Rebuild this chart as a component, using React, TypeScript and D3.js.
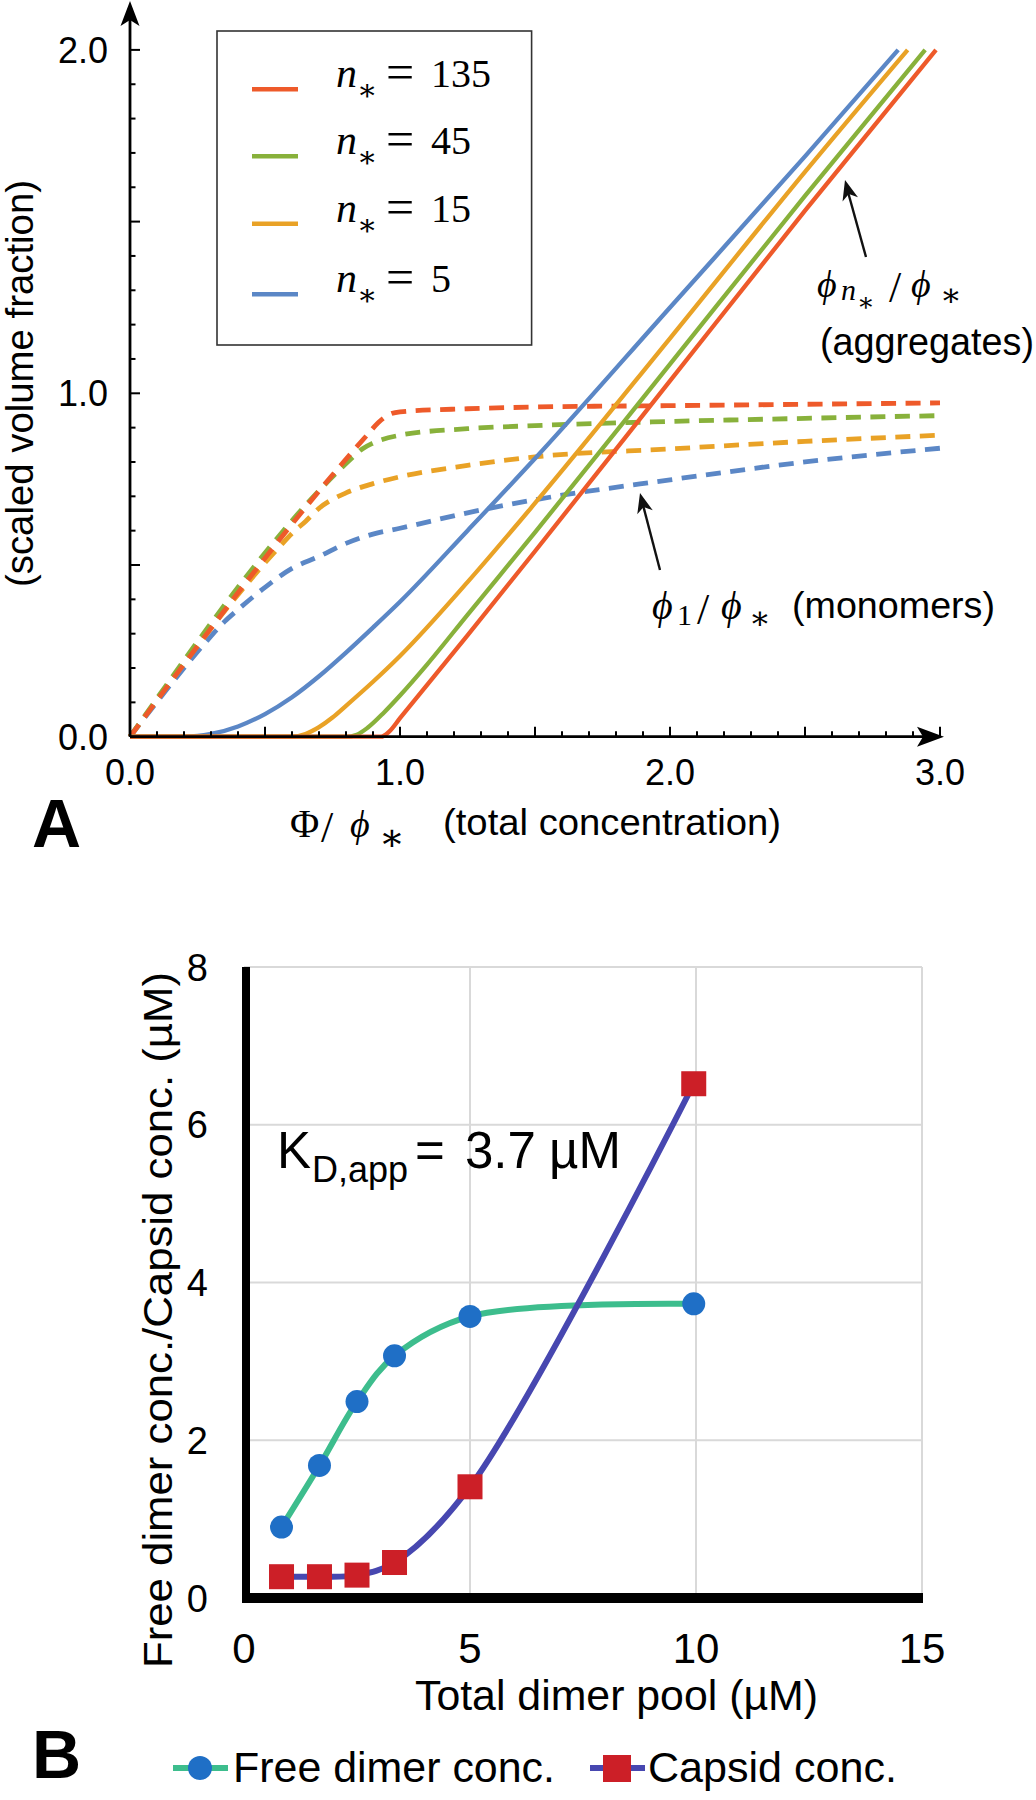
import React from 'react';
import * as d3 from 'd3';

// ---------- Panel A data ----------
const nLabels = ['135', '45', '15', '5'];
const seriesColors = ['#EE5A2A', '#88B13B', '#E9A226', '#5B87C6'];

// monomers (dashed)  [Φ/φ*, φ1/φ*]
const mono135 = [[0, 0], [0.88, 0.88], [0.92, 0.915], [0.96, 0.938], [1.0, 0.946], [1.25, 0.955], [1.5, 0.96], [2.0, 0.964], [2.5, 0.968], [3.0, 0.972]];
const mono45 = [[0, 0], [0.78, 0.78], [0.82, 0.81], [0.86, 0.838], [0.9, 0.855], [1.0, 0.878], [1.25, 0.897], [1.5, 0.906], [2.0, 0.918], [2.5, 0.927], [3.0, 0.935]];
const mono15 = [[0, 0], [0.55, 0.55], [0.6, 0.592], [0.65, 0.627], [0.7, 0.665], [0.8, 0.71], [0.9, 0.737], [1.0, 0.757], [1.25, 0.79], [1.5, 0.815], [2.0, 0.838], [2.5, 0.86], [3.0, 0.878]];
const mono5 = [[0, 0], [0.2, 0.2], [0.28, 0.275], [0.35, 0.335], [0.4, 0.37], [0.5, 0.435], [0.6, 0.49], [0.7, 0.525], [0.8, 0.563], [0.9, 0.59], [1.0, 0.607], [1.25, 0.652], [1.5, 0.69], [2.0, 0.748], [2.5, 0.8], [3.0, 0.84]];

// aggregates (solid)  [Φ/φ*, φn/φ*]
const agg135 = [[0, 0], [0.93, 0], [0.96, 0.015], [1.0, 0.054], [1.25, 0.295], [1.5, 0.54], [2.0, 1.036], [2.5, 1.532], [2.985, 2.0]];
const agg45 = [[0, 0], [0.8, 0], [0.84, 0.006], [0.88, 0.026], [0.94, 0.07], [1.0, 0.12], [1.1, 0.21], [1.25, 0.355], [1.5, 0.595], [2.0, 1.085], [2.5, 1.575], [2.945, 2.0]];
const agg15 = [[0, 0], [0.6, 0], [0.65, 0.008], [0.7, 0.028], [0.75, 0.056], [0.8, 0.09], [0.9, 0.16], [1.0, 0.235], [1.25, 0.45], [1.5, 0.68], [2.0, 1.16], [2.5, 1.645], [2.88, 2.0]];
const agg5 = [[0, 0], [0.2, 0], [0.25, 0.002], [0.3, 0.008], [0.4, 0.03], [0.5, 0.066], [0.6, 0.115], [0.7, 0.176], [0.8, 0.245], [0.9, 0.318], [1.0, 0.393], [1.25, 0.6], [1.5, 0.81], [2.0, 1.25], [2.5, 1.69], [2.845, 2.0]];

const xTickLabelsA = [0, 1, 2, 3];
const yTickLabelsA = [0, 1, 2];

// ---------- Panel B data ----------
const dimerPool = [0.83, 1.67, 2.5, 3.33, 5, 9.95];
const freeDimer = [0.9, 1.68, 2.49, 3.07, 3.57, 3.73];
const capsid = [0.27, 0.27, 0.29, 0.45, 1.41, 6.52];
const xTicksB = [0, 5, 10, 15];
const yTicksB = [0, 2, 4, 6, 8];

const SANS = "'Liberation Sans', Arial, Helvetica, sans-serif";
const SERIF = "'Liberation Serif', 'DejaVu Serif', serif";
const MATHSYM = "'DejaVu Serif', 'Liberation Serif', serif";

function arrowHead(tail: number[], tip: number[], L: number, w: number) {
  const dx = tip[0] - tail[0], dy = tip[1] - tail[1];
  const len = Math.hypot(dx, dy);
  const ux = dx / len, uy = dy / len;
  const px = -uy, py = ux;
  const bx = tip[0] - ux * L, by = tip[1] - uy * L;
  const nx = tip[0] - ux * L * 0.72, ny = tip[1] - uy * L * 0.72;
  return `M${tip[0]},${tip[1]}L${bx + px * w},${by + py * w}L${nx},${ny}L${bx - px * w},${by - py * w}Z`;
}

export default function App() {
  // ---- Panel A scales ----
  const xA = d3.scaleLinear().domain([0, 3]).range([130, 940]);
  const yA = d3.scaleLinear().domain([0, 2]).range([736.7, 49.9]);
  const lineA = d3.line<number[]>().x(d => xA(d[0])).y(d => yA(d[1])).curve(d3.curveMonotoneX);

  const monoSeries = [mono135, mono45, mono15, mono5];
  const aggSeries = [agg135, agg45, agg15, agg5];

  const tickPos = d3.range(0, 31).map(i => i / 10);
  const yTickPos = d3.range(0, 21).map(i => i / 10);
  const isMajor = (v: number) => Math.abs(v * 2 - Math.round(v * 2)) < 1e-6;

  const legendY = [89.3, 156.3, 223.7, 294.3];

  // ---- Panel B scales ----
  const xB = d3.scaleLinear().domain([0, 15]).range([244, 922]);
  const yB = d3.scaleLinear().domain([0, 8]).range([1598, 967]);
  const lineB = d3.line<number>().x((d, i) => xB(dimerPool[i])).y(d => yB(d)).curve(d3.curveCatmullRom.alpha(0.5));

  const aggTail = [866, 257], aggTip = [845, 180];
  const monTail = [660, 570], monTip = [640, 493];

  return (
    <svg width={1036} height={1800} style={{ position: 'absolute', left: 0, top: 0, background: '#fff' }}>
      <rect x={0} y={0} width={1036} height={1800} fill="#fff" />

      {/* ================= PANEL A ================= */}
      {[3, 2, 1, 0].map(i => (
        <path key={'m' + i} d={lineA(monoSeries[i]) || ''} fill="none" stroke={seriesColors[i]}
          strokeWidth={4.8} strokeDasharray="15 9.5" />
      ))}
      {[3, 2, 1, 0].map(i => (
        <path key={'a' + i} d={lineA(aggSeries[i]) || ''} fill="none" stroke={seriesColors[i]} strokeWidth={4.3} />
      ))}

      {/* axes */}
      <line x1={xA(0)} y1={yA(0)} x2={xA(0)} y2={12} stroke="#000" strokeWidth={2.8} />
      <path d="M130,1L120.5,26L130,20L139.5,26Z" fill="#000" />
      <line x1={xA(0)} y1={yA(0)} x2={932} y2={yA(0)} stroke="#000" strokeWidth={2.8} />
      <path d={`M944,${yA(0)}L917,${yA(0) - 10}L923,${yA(0)}L917,${yA(0) + 10}Z`} fill="#000" />

      {tickPos.map(v => (
        <line key={'xt' + v} x1={xA(v)} x2={xA(v)} y1={yA(0)} y2={yA(0) - (isMajor(v) ? 10 : 5.5)} stroke="#000" strokeWidth={2} />
      ))}
      {yTickPos.map(v => (
        <line key={'yt' + v} x1={xA(0)} x2={xA(0) + (isMajor(v) ? 10 : 5.5)} y1={yA(v)} y2={yA(v)} stroke="#000" strokeWidth={2} />
      ))}

      {xTickLabelsA.map(v => (
        <text key={'xl' + v} x={xA(v)} y={785} textAnchor="middle" fontFamily={SANS} fontSize={36}>{v.toFixed(1)}</text>
      ))}
      {yTickLabelsA.map(v => (
        <text key={'yl' + v} x={108} y={yA(v) + 12.8} textAnchor="end" fontFamily={SANS} fontSize={36}>{v.toFixed(1)}</text>
      ))}

      {/* axis titles A */}
      <text transform="translate(33,383.5) rotate(-90)" textAnchor="middle" fontFamily={SANS} fontSize={38}
        textLength={407} lengthAdjust="spacingAndGlyphs">(scaled volume fraction)</text>

      <text y={837} fontFamily={SERIF} fontSize={40}>
        <tspan x={290}>Φ</tspan>
        <tspan x={321} y={842} fontSize={44}>/</tspan>
        <tspan x={350} y={837} fontStyle="italic" fontSize={38}>ϕ</tspan>
        <tspan x={379} y={850} fontFamily={MATHSYM} fontSize={38}>∗</tspan>
      </text>
      <text x={443} y={835} fontFamily={SANS} fontSize={36} textLength={338} lengthAdjust="spacingAndGlyphs">(total concentration)</text>

      <text x={32} y={847} fontFamily={SANS} fontWeight="bold" fontSize={68}>A</text>

      {/* legend A */}
      <rect x={217} y={31} width={314.6} height={314} fill="#fff" stroke="#333" strokeWidth={1.6} />
      {nLabels.map((n, i) => (
        <g key={'lg' + n}>
          <line x1={252} x2={298} y1={legendY[i]} y2={legendY[i]} stroke={seriesColors[i]} strokeWidth={4.5} />
          <text y={legendY[i] - 2} fontFamily={SERIF} fontSize={40}>
            <tspan x={336} fontStyle="italic" fontSize={42}>n</tspan>
            <tspan x={357} y={legendY[i] + 11} fontFamily={MATHSYM} fontSize={30}>∗</tspan>
            <tspan x={386} y={legendY[i]} fontSize={50}>=</tspan>
            <tspan x={431} y={legendY[i] - 2}>{n}</tspan>
          </text>
        </g>
      ))}

      {/* annotations A */}
      <line x1={aggTail[0]} y1={aggTail[1]} x2={aggTip[0] + 3} y2={aggTip[1] + 12} stroke="#111" strokeWidth={2.4} />
      <path d={arrowHead(aggTail, aggTip, 20, 8)} fill="#111" />
      <text y={297} fontFamily={SERIF} fontSize={38}>
        <tspan x={817} fontStyle="italic">ϕ</tspan>
        <tspan x={841} y={300} fontStyle="italic" fontSize={30}>n</tspan>
        <tspan x={857} y={311} fontFamily={MATHSYM} fontSize={26}>∗</tspan>
        <tspan x={889} y={302} fontSize={44}>/</tspan>
        <tspan x={911} y={297} fontStyle="italic">ϕ</tspan>
        <tspan x={940} y={306} fontFamily={MATHSYM} fontSize={32}>∗</tspan>
      </text>
      <text x={820} y={355} fontFamily={SANS} fontSize={38} textLength={214} lengthAdjust="spacingAndGlyphs">(aggregates)</text>

      <line x1={monTail[0]} y1={monTail[1]} x2={monTip[0] + 3} y2={monTip[1] + 12} stroke="#111" strokeWidth={2.4} />
      <path d={arrowHead(monTail, monTip, 20, 8)} fill="#111" />
      <text y={619} fontFamily={SERIF} fontSize={40}>
        <tspan x={652} fontStyle="italic">ϕ</tspan>
        <tspan x={677} y={625} fontSize={30}>1</tspan>
        <tspan x={697} y={624} fontSize={44}>/</tspan>
        <tspan x={721} y={619} fontStyle="italic">ϕ</tspan>
        <tspan x={749} y={629} fontFamily={MATHSYM} fontSize={32}>∗</tspan>
      </text>
      <text x={792} y={618} fontFamily={SANS} fontSize={37} textLength={203} lengthAdjust="spacingAndGlyphs">(monomers)</text>

      {/* ================= PANEL B ================= */}
      {yTicksB.filter(v => v > 0).map(v => (
        <line key={'gy' + v} x1={xB(0)} x2={xB(15)} y1={yB(v)} y2={yB(v)} stroke="#d9d9d9" strokeWidth={2} />
      ))}
      {xTicksB.filter(v => v > 0).map(v => (
        <line key={'gx' + v} x1={xB(v)} x2={xB(v)} y1={yB(8)} y2={yB(0)} stroke="#d9d9d9" strokeWidth={2} />
      ))}

      {/* K_D annotation */}
      <text y={1168} fontFamily={SANS} fontSize={51}>
        <tspan x={277}>K</tspan>
        <tspan x={312} y={1182} fontSize={36}>D,app</tspan>
        <tspan x={415} y={1168}>=</tspan>
        <tspan x={465}>3.7</tspan>
        <tspan x={549}>µM</tspan>
      </text>

      {/* lines */}
      <path d={lineB(freeDimer) || ''} fill="none" stroke="#3DBD8D" strokeWidth={6} />
      <path d={lineB(capsid) || ''} fill="none" stroke="#4747B0" strokeWidth={6} />
      {freeDimer.map((v, i) => (
        <circle key={'c' + i} cx={xB(dimerPool[i])} cy={yB(v)} r={11.5} fill="#1F6FC6" />
      ))}
      {capsid.map((v, i) => (
        <rect key={'s' + i} x={xB(dimerPool[i]) - 12.5} y={yB(v) - 12.5} width={25} height={25} fill="#CC1F27" />
      ))}

      {/* axes B */}
      <line x1={246} x2={246} y1={967} y2={1603} stroke="#000" strokeWidth={8} />
      <line x1={242} x2={923} y1={1598} y2={1598} stroke="#000" strokeWidth={10} />

      {yTicksB.map(v => (
        <text key={'byl' + v} x={208} y={yB(v) + 13.5} textAnchor="end" fontFamily={SANS} fontSize={38}>{v}</text>
      ))}
      {xTicksB.map(v => (
        <text key={'bxl' + v} x={xB(v)} y={1663} textAnchor="middle" fontFamily={SANS} fontSize={42}>{v}</text>
      ))}

      <text x={415} y={1710} fontFamily={SANS} fontSize={42} textLength={403} lengthAdjust="spacingAndGlyphs">Total dimer pool (µM)</text>
      <text transform="translate(172,1320) rotate(-90)" textAnchor="middle" fontFamily={SANS} fontSize={40}
        textLength={696} lengthAdjust="spacingAndGlyphs">Free dimer conc./Capsid conc. (µM)</text>

      <text x={32} y={1778} fontFamily={SANS} fontWeight="bold" fontSize={68}>B</text>

      {/* legend B */}
      <line x1={173} x2={228} y1={1768} y2={1768} stroke="#3DBD8D" strokeWidth={6} />
      <circle cx={200} cy={1768} r={12} fill="#1F6FC6" />
      <text x={233} y={1782} fontFamily={SANS} fontSize={43} textLength={322} lengthAdjust="spacingAndGlyphs">Free dimer conc.</text>
      <line x1={590} x2={645} y1={1768} y2={1768} stroke="#4747B0" strokeWidth={6} />
      <rect x={603} y={1755} width={28} height={27} fill="#CC1F27" />
      <text x={648} y={1782} fontFamily={SANS} fontSize={43} textLength={249} lengthAdjust="spacingAndGlyphs">Capsid conc.</text>
    </svg>
  );
}
